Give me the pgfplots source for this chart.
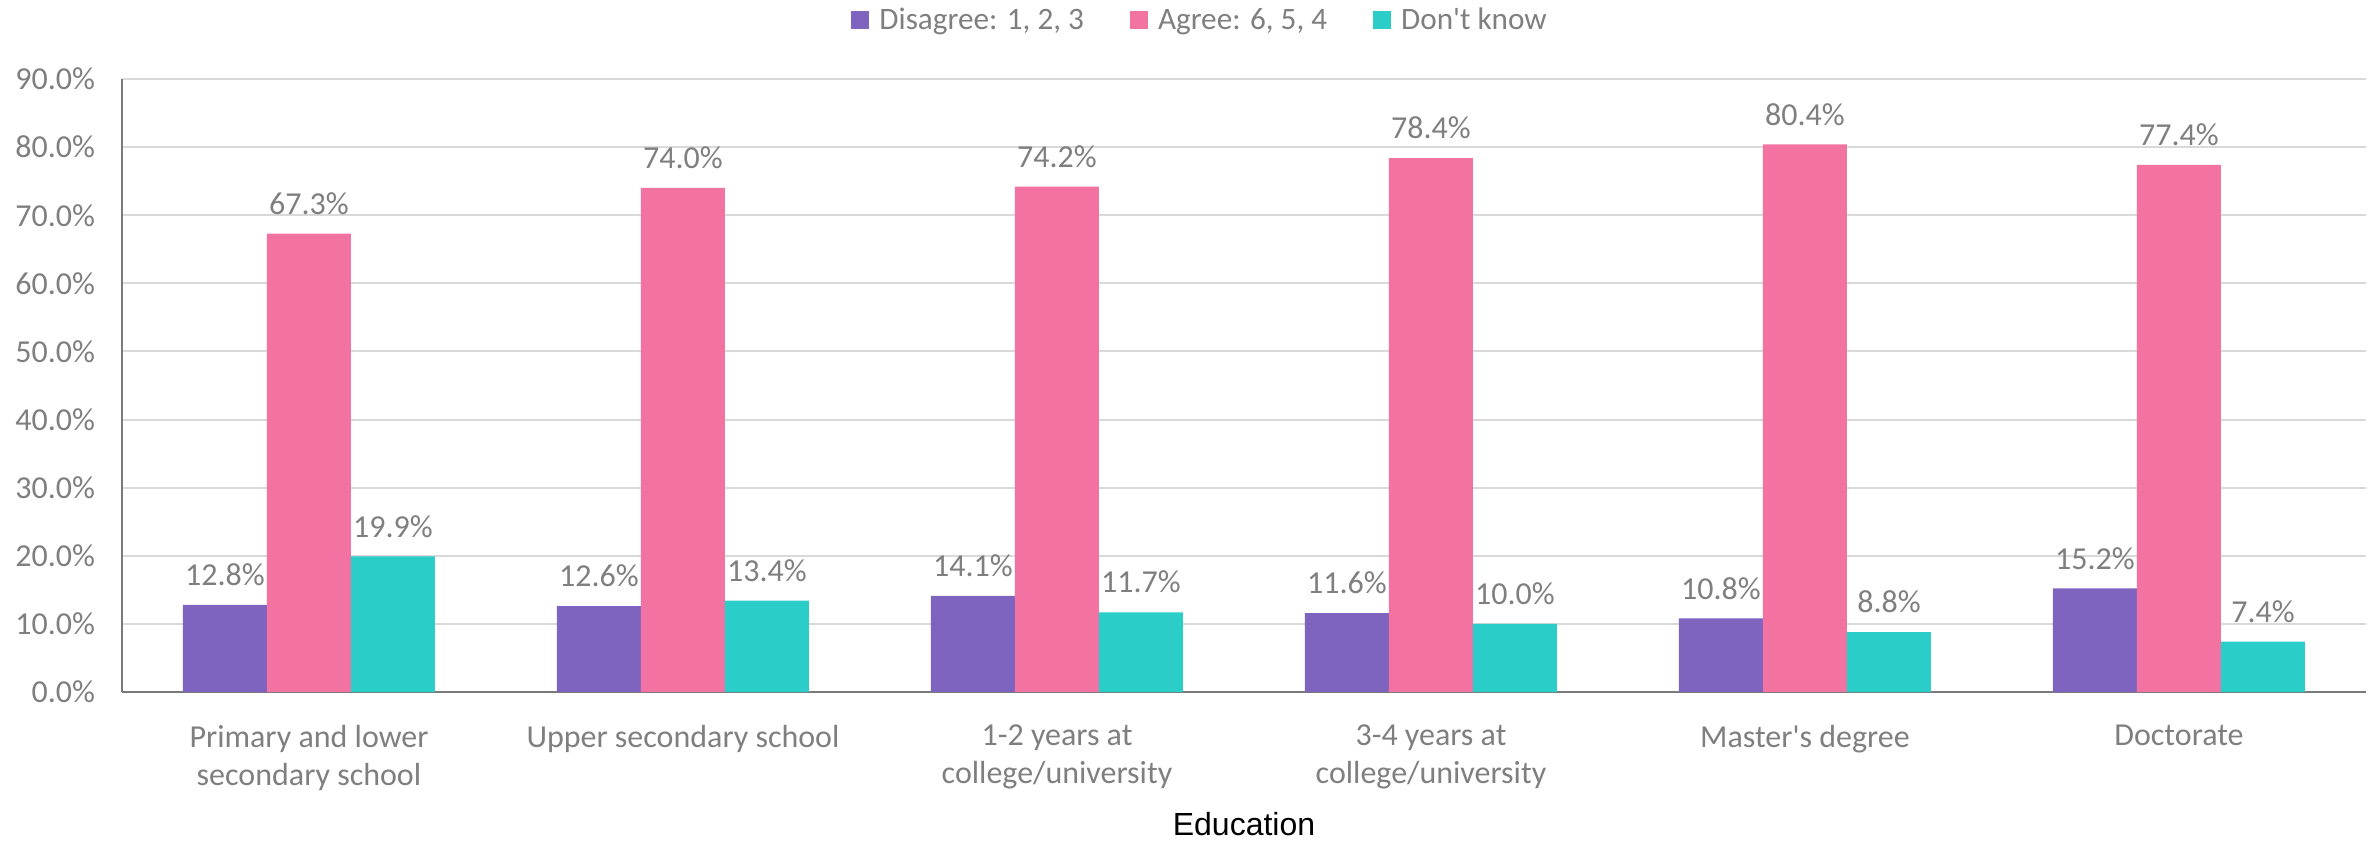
\documentclass[border=0pt]{standalone}
\usepackage{pgfplots}
\pgfplotsset{compat=1.18}
\usepackage{fontspec}
\setmainfont{Carlito}
\newfontfamily\arialfont{Liberation Sans}

\definecolor{cDis}{HTML}{7E63BF}
\definecolor{cAgr}{HTML}{F272A1}
\definecolor{cDk}{HTML}{2ACDC8}
\definecolor{txtgray}{HTML}{7F7F7F}
\definecolor{gridgray}{HTML}{D9D9D9}
\definecolor{axgray}{HTML}{7A7A7A}

\newcommand{\lgf}{\fontsize{15.6}{18}\selectfont}

\begin{document}
\begin{tikzpicture}
\useasboundingbox (-61pt,-75.5pt) rectangle (1127.5pt,346pt);
\begin{axis}[
  at={(0,0)}, anchor=south west,
  scale only axis,
  width=1122pt, height=306.5pt,
  ybar=0pt, bar width=42pt,
  xmin=-0.5, xmax=5.5,
  ymin=0, ymax=90,
  ytick={0,10,...,90},
  xtick={0,1,2,3,4,5},
  xticklabels={{Primary and lower\\secondary school},{Upper secondary school},{1-2 years at\\college/university},{3-4 years at\\college/university},{Master\textquotesingle s degree},{Doctorate}},
  /pgf/number format/assume math mode=true,
  yticklabel={\pgfmathprintnumber[fixed,fixed zerofill,precision=1]{\tick}\%},
  yticklabel style={font=\fontsize{16}{19}\selectfont, text=txtgray, xshift=-10pt},
  xticklabel style={font=\fontsize{16}{19}\selectfont, text=txtgray, align=center, yshift=-13pt},
  major tick length=0pt,
  axis lines*=left,
  x axis line style={draw=axgray, line width=1.2pt},
  y axis line style={draw=axgray, line width=1pt},
  ymajorgrids,
  grid style={draw=gridgray, line width=1pt},
  xlabel={\arialfont\fontsize{16}{19}\selectfont Education},
  xlabel style={at={(axis description cs:0.5,0)}, anchor=base, yshift=-71.5pt, text=black},
  nodes near coords={\pgfmathprintnumber[fixed,fixed zerofill,precision=1]{\pgfplotspointmeta}\%},
  every node near coord/.append style={font=\fontsize{16}{19}\selectfont, text=txtgray, yshift=6pt},
  legend columns=3,
  legend style={at={(0.48,1.096)}, anchor=center, draw=none, fill=none,
    nodes={inner sep=0pt, text=txtgray},
    /tikz/every odd column/.append style={column sep=5pt},
    /tikz/every even column/.append style={column sep=23pt},
    row sep=0pt},
  legend image code/.code={\fill[#1] (0pt,-4.5pt) rectangle (9pt,4.5pt);},
]
\addplot[fill=cDis, draw=none] coordinates {(0,12.8) (1,12.6) (2,14.1) (3,11.6) (4,10.8) (5,15.2)};
\addplot[fill=cAgr, draw=none] coordinates {(0,67.3) (1,74.0) (2,74.2) (3,78.4) (4,80.4) (5,77.4)};
\addplot[fill=cDk, draw=none] coordinates {(0,19.9) (1,13.4) (2,11.7) (3,10.0) (4,8.8) (5,7.4)};
\legend{{\lgf Disagree: 1, 2, 3},{\lgf Agree: 6, 5, 4},{\lgf Don\textquotesingle t know}}
\end{axis}
\end{tikzpicture}
\end{document}
